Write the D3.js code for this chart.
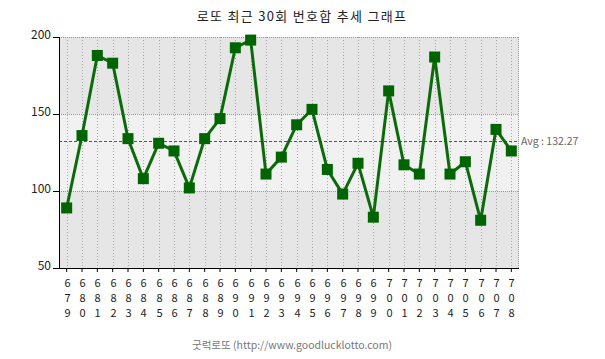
<!DOCTYPE html>
<html>
<head>
<meta charset="utf-8">
<script src="https://cdn.jsdelivr.net/npm/d3@7"></script>
<style>
  body { margin: 0; background: #fff; }
  text { font-family: "Noto Sans CJK KR", "DejaVu Sans", sans-serif; }
</style>
</head>
<body>
<div id="chart"></div>
<script>
const svgWidth = 605;
const svgHeight = 359;

const margin = { top: 37, right: 86, bottom: 91, left: 59 };
const width = svgWidth - margin.left - margin.right;
const height = svgHeight - margin.top - margin.bottom;

// draw numbers (rounds 679 ~ 708) and their sums
const rounds = ["679","680","681","682","683","684","685","686","687","688",
  "689","690","691","692","693","694","695","696","697","698",
  "699","700","701","702","703","704","705","706","707","708"];
const sums = [89, 136, 188, 183, 134, 108, 131, 126, 102, 134,
  147, 193, 198, 111, 122, 143, 153, 114, 98, 118,
  83, 165, 117, 111, 187, 111, 119, 81, 140, 126];
const yTicks = [50, 100, 150, 200];
const bands = [[150, 200, "#e6e6e6"], [100, 150, "#f1f1f1"], [50, 100, "#e6e6e6"]];

const avg = d3.mean(sums);

const svg = d3.select("#chart").append("svg")
  .attr("width", svgWidth)
  .attr("height", svgHeight);

// title
svg.append("text")
  .attr("x", 302)
  .attr("y", 21)
  .attr("text-anchor", "middle")
  .attr("font-size", 13)
  .attr("letter-spacing", 1.3)
  .attr("fill", "#222")
  .text("로또 최근 30회 번호합 추세 그래프");

const chartGroup = svg.append("g")
  .attr("transform", `translate(${margin.left}, ${margin.top})`);

const x = d3.scaleBand().domain(rounds).range([0, width]);
const y = d3.scaleLinear().domain([50, 200]).range([height, 0]);
const cx = r => x(r) + x.bandwidth() / 2;

// background bands
chartGroup.selectAll(".band")
  .data(bands)
  .enter()
  .append("rect")
  .attr("x", 0)
  .attr("width", width)
  .attr("y", d => y(d[1]))
  .attr("height", d => y(d[0]) - y(d[1]))
  .attr("fill", d => d[2]);

// vertical dotted grid
chartGroup.selectAll(".vgrid")
  .data(rounds)
  .enter()
  .append("line")
  .attr("x1", d => Math.round(cx(d)) + 0.5)
  .attr("x2", d => Math.round(cx(d)) + 0.5)
  .attr("y1", 0)
  .attr("y2", height)
  .attr("stroke", "#a8a8a8")
  .attr("stroke-dasharray", "1,2");

// horizontal dotted grid
chartGroup.selectAll(".hgrid")
  .data([100, 150, 200])
  .enter()
  .append("line")
  .attr("x1", 0)
  .attr("x2", width)
  .attr("y1", d => y(d) + 0.5)
  .attr("y2", d => y(d) + 0.5)
  .attr("stroke", "#999")
  .attr("stroke-dasharray", "1,1");

// right border
chartGroup.append("line")
  .attr("x1", width - 0.5).attr("x2", width - 0.5)
  .attr("y1", 0).attr("y2", height)
  .attr("stroke", "#999")
  .attr("stroke-dasharray", "1,1");

// average line
chartGroup.append("line")
  .attr("x1", 0)
  .attr("x2", width)
  .attr("y1", Math.round(y(avg)) + 0.5)
  .attr("y2", Math.round(y(avg)) + 0.5)
  .attr("stroke", "#555")
  .attr("stroke-dasharray", "3,2");

chartGroup.append("text")
  .attr("x", width + 2)
  .attr("y", y(avg) + 4)
  .attr("font-size", 10.5)
  .attr("fill", "#666")
  .text(`Avg : ${avg.toFixed(2)}`);

// axes
const leftAxis = d3.axisLeft(y).tickValues(yTicks).tickSize(6).tickPadding(2);
const yAxis = chartGroup.append("g").call(leftAxis);
yAxis.select(".domain").attr("stroke", "#000").attr("d", `M0.5,0V${height}`);
yAxis.selectAll("text").attr("font-size", 12).attr("fill", "#222")
  .attr("font-family", "DejaVu Sans, sans-serif").attr("dy", "0.1em");

const bottomAxis = d3.axisBottom(x).tickSize(4).tickFormat("");
const xAxis = chartGroup.append("g")
  .attr("transform", `translate(0, ${height})`)
  .call(bottomAxis);
xAxis.select(".domain").attr("stroke", "#000").attr("d", `M0,0.5H${width}`);

// stacked digit labels, one text per digit
const digits = [];
rounds.forEach(r => r.split("").forEach((c, i) => digits.push({ r: r, c: c, i: i })));

chartGroup.selectAll(".digit")
  .data(digits)
  .enter()
  .append("text")
  .attr("x", d => Math.round(cx(d.r)) + 0.5)
  .attr("y", d => height + 19 + d.i * 15)
  .attr("text-anchor", "middle")
  .attr("font-size", 11)
  .attr("fill", "#222")
  .attr("font-family", "DejaVu Sans, sans-serif")
  .text(d => d.c);

// series line
const line = d3.line()
  .x((d, i) => cx(rounds[i]))
  .y(d => y(d));

chartGroup.append("path")
  .datum(sums)
  .attr("fill", "none")
  .attr("stroke", "#0b6b0b")
  .attr("stroke-width", 3)
  .attr("d", line);

// markers
const size = 11;
chartGroup.selectAll(".marker")
  .data(sums)
  .enter()
  .append("rect")
  .attr("x", (d, i) => cx(rounds[i]) - size / 2)
  .attr("y", d => y(d) - size / 2)
  .attr("width", size)
  .attr("height", size)
  .attr("fill", "#006400");

// footer
svg.append("text")
  .attr("x", 292)
  .attr("y", 349)
  .attr("text-anchor", "middle")
  .attr("font-size", 10.5)
  .attr("fill", "#777")
  .text("굿럭로또 (http://www.goodlucklotto.com)");
</script>
</body>
</html>
